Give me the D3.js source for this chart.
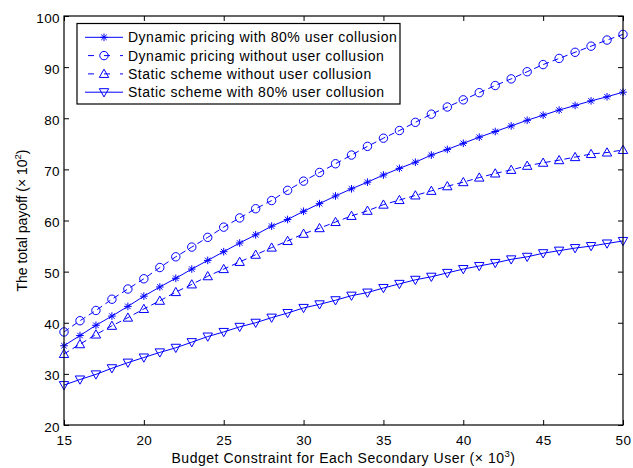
<!DOCTYPE html>
<html><head><meta charset="utf-8">
<script src="https://cdn.jsdelivr.net/npm/d3@7"></script>
<style>
body{margin:0;background:#fff;}
svg{display:block;font-family:"Liberation Sans",Arial,Helvetica,sans-serif;}
</style></head><body>
<svg id="c" width="633" height="468"></svg>
<script>
const budget = d3.range(15, 51);
const dynWith80 = [35.5,37.5,39.5,41.3,43.2,45.2,47.0,48.7,50.5,52.2,53.9,55.6,57.2,58.9,60.2,61.8,63.3,64.8,66.2,67.5,68.9,70.2,71.4,72.8,73.9,75.1,76.3,77.4,78.5,79.6,80.6,81.6,82.5,83.4,84.2,85.1];
const dynWithout = [38.2,40.4,42.4,44.6,46.6,48.6,50.8,52.9,54.8,56.7,58.7,60.5,62.3,63.9,65.9,67.7,69.4,71.1,72.8,74.5,76.1,77.6,79.2,80.8,82.2,83.6,85.0,86.4,87.7,89.1,90.5,91.7,92.9,94.1,95.3,96.4];
const staticWithout = [33.9,35.8,37.7,39.4,41.0,42.7,44.3,46.0,47.5,49.1,50.5,51.9,53.3,54.7,56.0,57.4,58.5,59.7,60.9,61.9,63.1,64.0,64.9,65.8,66.7,67.5,68.4,69.2,69.9,70.7,71.3,71.8,72.4,73.0,73.3,73.8];
const staticWith80 = [27.8,28.9,29.9,31.1,32.2,33.2,34.2,35.1,36.2,37.3,38.2,39.2,40.0,41.0,41.9,42.9,43.6,44.4,45.3,45.9,46.8,47.6,48.4,49.0,49.75,50.5,51.1,51.7,52.4,52.9,53.6,54.1,54.6,55.0,55.5,56.0];
const xTicks = [15,20,25,30,35,40,45,50];
const yTicks = [20,30,40,50,60,70,80,90,100];
const seriesNames = ["Dynamic pricing with 80% user collusion","Dynamic pricing without user collusion","Static scheme without user collusion","Static scheme with 80% user collusion"];

const series = [
  {name:seriesNames[0], values:dynWith80, marker:"star", dash:null},
  {name:seriesNames[1], values:dynWithout, marker:"circle", dash:"6,4"},
  {name:seriesNames[2], values:staticWithout, marker:"tri", dash:"6,4"},
  {name:seriesNames[3], values:staticWith80, marker:"tridown", dash:null}
];

const L=64, R=623, T=16, B=425;
const svg = d3.select("#c");
const x = d3.scaleLinear().domain([15,50]).range([L,R]);
const y = d3.scaleLinear().domain([20,100]).range([B,T]);
const blue = "#0000ff";
const fs = 13.5;

function fitWidth(sel, target){
  const node = sel.node();
  const n = node.textContent.length;
  const w = node.getComputedTextLength();
  sel.attr("letter-spacing", ((target - w)/n).toFixed(3));
}

function drawMarker(g, type, cx, cy){
  if(type==="circle"){
    g.append("circle").attr("cx",cx).attr("cy",cy).attr("r",4.2).attr("fill","none").attr("stroke",blue).attr("stroke-width",1);
  } else if(type==="tri"){
    const s=4.7;
    g.append("path").attr("d",`M${cx},${cy-s}L${cx+s},${cy+s*0.75}L${cx-s},${cy+s*0.75}Z`).attr("fill","none").attr("stroke",blue).attr("stroke-width",1);
  } else if(type==="tridown"){
    const s=4.7;
    g.append("path").attr("d",`M${cx},${cy+s}L${cx+s},${cy-s*0.75}L${cx-s},${cy-s*0.75}Z`).attr("fill","none").attr("stroke",blue).attr("stroke-width",1);
  } else if(type==="star"){
    const s=3.8, d=s*0.72;
    g.append("path").attr("d",`M${cx-s},${cy}L${cx+s},${cy}M${cx},${cy-s}L${cx},${cy+s}M${cx-d},${cy-d}L${cx+d},${cy+d}M${cx-d},${cy+d}L${cx+d},${cy-d}`).attr("fill","none").attr("stroke",blue).attr("stroke-width",1);
  }
}

// axes
const tick = 5;
const gx = svg.append("g").attr("transform",`translate(0,${B})`)
  .call(d3.axisBottom(x).tickValues(xTicks).tickSize(-tick).tickPadding(10).tickFormat(d3.format("d")));
const gxt = svg.append("g").attr("transform",`translate(0,${T})`)
  .call(d3.axisTop(x).tickValues(xTicks).tickSize(-tick).tickFormat(""));
const gy = svg.append("g").attr("transform",`translate(${L},0)`)
  .call(d3.axisLeft(y).tickValues(yTicks).tickSize(-tick).tickPadding(4).tickFormat(d3.format("d")));
const gyr = svg.append("g").attr("transform",`translate(${R},0)`)
  .call(d3.axisRight(y).tickValues(yTicks).tickSize(-tick).tickFormat(""));
[gx,gxt,gy,gyr].forEach(g=>{
  g.select(".domain").remove();
  g.selectAll("line").attr("stroke","#000").attr("stroke-width",1);
  g.selectAll("text").attr("font-size",fs).attr("fill","#000").attr("letter-spacing",0.4)
    .attr("font-family",'"Liberation Sans",Arial,sans-serif');
});
gy.selectAll("text").attr("dy","0.45em");

// lines
const line = d3.line().x((d,i)=>x(budget[i])).y(d=>y(d));
const plot = svg.append("g");
series.forEach(s=>{
  plot.append("path").attr("d",line(s.values)).attr("fill","none").attr("stroke",blue).attr("stroke-width",1)
    .attr("stroke-dasharray",s.dash);
  const mg = plot.append("g");
  s.values.forEach((v,i)=>drawMarker(mg,s.marker,x(budget[i]),y(v)));
});

// box
svg.append("rect").attr("x",L).attr("y",T).attr("width",R-L).attr("height",B-T)
  .attr("fill","none").attr("stroke","#000").attr("stroke-width",1.2);

// legend
const lg = svg.append("g");
lg.append("rect").attr("x",77).attr("y",23.5).attr("width",323).attr("height",80.5)
  .attr("fill","#fff").attr("stroke","#000").attr("stroke-width",1.2);
series.forEach((s,i)=>{
  const cy = 37.3 + i*18.3;
  lg.append("line").attr("x1",85).attr("x2",123).attr("y1",cy).attr("y2",cy)
    .attr("stroke",blue).attr("stroke-width",1).attr("stroke-dasharray",s.dash?"6,10":null)
    .attr("stroke-dashoffset", s.dash?-3:null);
  drawMarker(lg,s.marker,104,cy);
  lg.append("text").attr("x",128).attr("y",cy).attr("dy","0.36em").attr("font-size",14)
    .attr("letter-spacing",0.5).text(s.name);
});

// axis titles
const xt = svg.append("text").attr("x",(L+R)/2).attr("y",463).attr("text-anchor","middle").attr("font-size",14);
xt.append("tspan").text("Budget Constraint for Each Secondary User (\u00d7 10");
xt.append("tspan").attr("font-size",9.5).attr("dy",-6).text("3");
xt.append("tspan").attr("dy",6).text(")");
fitWidth(xt, 344);

const yt = svg.append("text").attr("transform",`translate(27,${(T+B)/2}) rotate(-90)`).attr("text-anchor","middle").attr("font-size",14);
yt.append("tspan").text("The total payoff (\u00d7 10");
yt.append("tspan").attr("font-size",9.5).attr("dy",-6).text("2");
yt.append("tspan").attr("dy",6).text(")");
fitWidth(yt, 142);
</script>
</body></html>
